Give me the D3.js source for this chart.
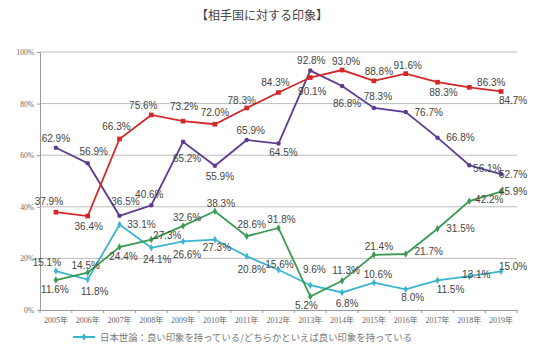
<!DOCTYPE html>
<html><head><meta charset="utf-8">
<script src="https://cdn.jsdelivr.net/npm/d3@7"></script>
<style>body{margin:0;background:#fff}svg{display:block}</style>
</head><body><svg id="c" width="548" height="350"></svg>
<script>
const years = ["2005年","2006年","2007年","2008年","2009年","2010年","2011年","2012年","2013年","2014年","2015年","2016年","2017年","2018年","2019年"];
const yTicks = [0,20,40,60,80,100];
const redVals = [37.9,36.4,66.3,75.6,73.2,72.0,78.3,84.3,90.1,93.0,88.8,91.6,88.3,86.3,84.7];
const purpleVals = [62.9,56.9,36.5,40.6,65.2,55.9,65.9,64.5,92.8,86.8,78.3,76.7,66.8,56.1,52.7];
const greenVals = [11.6,14.5,24.4,27.3,32.6,38.3,28.6,31.8,5.2,11.3,21.4,21.7,31.5,42.2,45.9];
const cyanVals = [15.1,11.8,33.1,24.1,26.6,27.3,20.8,15.6,9.6,6.8,10.6,8.0,11.5,13.1,15.0];
const title = "【相手国に対する印象】";
const legendText = "日本世論：良い印象を持っている/どちらかといえば良い印象を持っている";

// label offsets (style config, px)
const redOff = [[-7,-11],[1,10],[-3,-12],[-8,-9],[1,-15],[0,-12],[-5,-7],[-3,-10],[2,14],[4,-9],[5,-9],[2,-8],[6,10],[22,-5],[12,9]];
const purpleOff = [[0,-9],[6,-12],[6,-14],[-2,-11],[4,17],[5,11],[4,-9],[5,9],[1,-10],[5,17],[4,-11],[23,0],[23,0],[18,3],[12,0]];
const greenOff = [[-1,9],[-2,-7],[4,9],[16,-4],[4,-8],[6,-8],[5,-12],[3,-8],[-4,9],[4,-10],[5,-8],[23,-3],[23,0],[20,-2],[12,0]];
const cyanOff = [[-9,-9],[7,12],[22,0],[6,12],[4,13],[2,8],[5,13],[1,-5],[4,-16],[5,11],[4,-8],[7,8],[13,9],[7,-2],[12,-5]];

const svg = d3.select("#c");
const L = 40, R = 517, T = 52, B = 310;
const x = d3.scaleBand().domain(years).range([L, R]);
const y = d3.scaleLinear().domain([0,100]).range([B, T]);
const cx = d => x(d) + x.bandwidth()/2;

svg.append("text").attr("x",262).attr("y",20).attr("text-anchor","middle")
  .style("font-family","'Noto Sans CJK JP'").style("font-size","12px").attr("fill","#444").text(title);

// grid
svg.append("g").selectAll("line").data(yTicks.filter(t=>t>0)).join("line")
  .attr("x1",L).attr("x2",R).attr("y1",d=>y(d)).attr("y2",d=>y(d))
  .attr("stroke","#bdbdbd").attr("stroke-width",1);

// y axis
const ya = svg.append("g").attr("transform",`translate(${L},0)`)
  .call(d3.axisLeft(y).tickValues(yTicks).tickSize(3).tickFormat(d=>d+"%"));
ya.select(".domain").attr("stroke","#999");
ya.selectAll(".tick line").attr("stroke","#999");
ya.selectAll("text").style("font-family","'Liberation Serif'").style("font-size","7.5px").attr("fill","#666");

// x axis
const xa = svg.append("g").attr("transform",`translate(0,${B})`)
  .call(d3.axisBottom(x).tickSize(0).tickPadding(7));
xa.select(".domain").attr("stroke","#999");
xa.selectAll("text").style("font-family","'Liberation Serif','Noto Sans CJK JP'").style("font-size","8px").attr("fill","#666");
svg.append("g").selectAll("line").data(d3.range(years.length+1)).join("line")
  .attr("x1",i=>L+i*x.step()).attr("x2",i=>L+i*x.step()).attr("y1",B).attr("y2",B+3)
  .attr("stroke","#999");

const series = [
  {vals: cyanVals, off: cyanOff, color:"#3ab5cf", marker:"diamond"},
  {vals: greenVals, off: greenOff, color:"#3a9a52", marker:"diamond"},
  {vals: purpleVals, off: purpleOff, color:"#5e3b92", marker:"circle"},
  {vals: redVals, off: redOff, color:"#d42828", marker:"square"}
];
const line = d3.line().x((d,i)=>cx(years[i])).y(d=>y(d));
series.forEach(s=>{
  svg.append("path").datum(s.vals).attr("d",line).attr("fill","none")
    .attr("stroke",s.color).attr("stroke-width",1.8);
  const sym = s.marker==="square"?d3.symbolSquare:(s.marker==="circle"?d3.symbolCircle:d3.symbolDiamond);
  svg.append("g").selectAll("path").data(s.vals).join("path")
    .attr("transform",(d,i)=>`translate(${cx(years[i])},${y(d)})`)
    .attr("d",d3.symbol().type(sym).size(s.marker==="square"?22:16)).attr("fill",s.color);
});
series.forEach(s=>{
  svg.append("g").selectAll("text").data(s.vals).join("text")
    .attr("x",(d,i)=>cx(years[i])+s.off[i][0]).attr("y",(d,i)=>y(d)+s.off[i][1])
    .attr("text-anchor","middle").attr("dominant-baseline","central")
    .style("font-family","'Liberation Sans',Arial").style("font-size","10px").attr("fill","#444")
    .text(d=>d.toFixed(1)+"%");
});

// legend
const lg = svg.append("g").attr("transform","translate(73,337)");
lg.append("line").attr("x1",0).attr("x2",22).attr("y1",0).attr("y2",0).attr("stroke","#3ab5cf").attr("stroke-width",2);
lg.append("path").attr("transform","translate(11,0)").attr("d",d3.symbol().type(d3.symbolDiamond).size(16)).attr("fill","#3ab5cf");
lg.append("text").attr("x",27).attr("y",0).attr("dominant-baseline","central")
  .style("font-family","'Noto Sans CJK JP'").style("font-size","9.4px").attr("fill","#777").text(legendText);
</script></body></html>
